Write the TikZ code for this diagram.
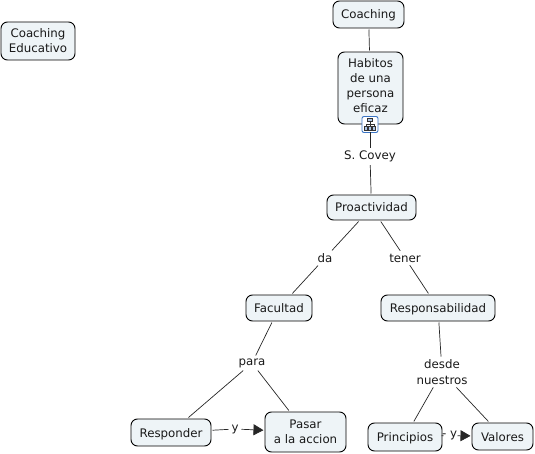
\documentclass[tikz,border=0pt]{standalone}
\usepackage{fontspec}
\setmainfont{DejaVu Sans}
\usetikzlibrary{arrows.meta}
\definecolor{conceptfill}{HTML}{EEF4F7}
\definecolor{iconblue}{HTML}{3A74C4}
\tikzset{
  concept/.style={draw=black,fill=conceptfill,rounded corners=6.5pt,line width=0.9pt,align=center,
    font=\fontsize{11.8}{15}\selectfont,text=black!90,inner sep=0pt,outer sep=1.5pt},
  oneline/.style={text height=11pt,text depth=2pt},
  lbl/.style={font=\fontsize{11.8}{15.6}\selectfont,text=black!90,align=center,inner sep=1.5pt,outer sep=1.5pt},
  link/.style={line width=0.7pt,black!85},
  linkto/.style={link,-{Triangle[length=10pt,width=11pt]}}
}
\begin{document}
\begin{tikzpicture}[x=1pt,y=-1pt]
  \useasboundingbox (0,0) rectangle (535,454);
  % concepts
  \node[concept,minimum width=74pt,minimum height=38pt] (educativo) at (38,41) {Coaching\\Educativo};
  \node[concept,oneline,minimum width=71pt,minimum height=27pt] (coaching) at (368.5,14.5) {Coaching};
  \node[concept,minimum width=65pt,minimum height=72pt,text depth=5pt] (habitos) at (370.5,88) {Habitos\\de una\\persona\\eficaz};
  \node[concept,oneline,minimum width=89pt,minimum height=25pt] (proactividad) at (371.5,207.5) {Proactividad};
  \node[concept,oneline,minimum width=66pt,minimum height=26pt] (facultad) at (279,308) {Facultad};
  \node[concept,oneline,minimum width=114pt,minimum height=26pt] (responsabilidad) at (438,308) {Responsabilidad};
  \node[concept,oneline,minimum width=80pt,minimum height=27pt] (responder) at (171,432.5) {Responder};
  \node[concept,minimum width=81pt,minimum height=40pt] (pasar) at (305.5,432) {Pasar\\a la accion};
  \node[concept,oneline,minimum width=74pt,minimum height=28pt] (principios) at (405,437) {Principios};
  \node[concept,oneline,minimum width=61pt,minimum height=27pt] (valores) at (502.5,436.5) {Valores};
  % link labels
  \node[lbl] (covey) at (370,156.5) {S. Covey};
  \node[lbl] (da) at (325,258) {da};
  \node[lbl] (tener) at (405,258) {tener};
  \node[lbl] (para) at (252,363) {para};
  \node[lbl] (desde) at (442,372) {desde\\nuestros};
  \node[lbl] (yuno) at (235,429) {y};
  \node[lbl,inner sep=0pt,outer sep=0.5pt] (ydos) at (449.5,435.5) {- y};
  % resource icon
  \node[draw=iconblue,fill=white,rounded corners=2pt,line width=0.9pt,minimum size=16pt,inner sep=0pt,outer sep=0pt] (icon) at (370,124.5) {};
  \draw[black!80,fill=iconblue!40,line width=0.5pt] (367.5,118.5) rectangle (372.5,121.5);
  \draw[black!80,fill=iconblue!40,line width=0.5pt] (364.5,126.5) rectangle (367.5,130.5);
  \draw[black!80,fill=iconblue!40,line width=0.5pt] (368.5,126.5) rectangle (371.5,130.5);
  \draw[black!80,fill=iconblue!40,line width=0.5pt] (372.5,126.5) rectangle (375.5,130.5);
  \draw[black!80,line width=0.5pt] (370,121.5)--(370,126.5) (366,126.5)--(366,124)--(374,124)--(374,126.5);
  % connectors
  \draw[link] (coaching) -- (habitos);
  \draw[link] (icon) -- (covey);
  \draw[link] (covey) -- (proactividad);
  \draw[link] (proactividad) -- (da);
  \draw[link] (da) -- (facultad);
  \draw[link] (proactividad) -- (tener);
  \draw[link] (tener) -- (responsabilidad);
  \draw[link] (facultad) -- (para);
  \draw[link] (para) -- (responder);
  \draw[link] (para) -- (pasar);
  \draw[link] (responsabilidad) -- (desde);
  \draw[link] (desde) -- (principios);
  \draw[link] (desde) -- (valores);
  \draw[link] (responder) -- (yuno);
  \draw[linkto] (yuno) -- (pasar);
  \draw[link] (principios) -- (ydos);
  \draw[linkto] (ydos) -- (valores);
\end{tikzpicture}
\end{document}
